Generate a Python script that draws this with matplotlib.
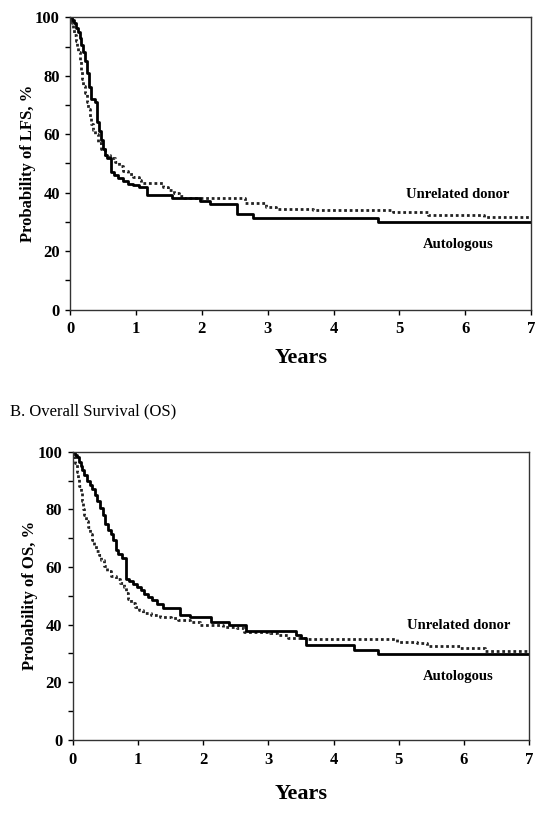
import matplotlib
matplotlib.use("Agg")
import matplotlib.pyplot as plt
from matplotlib.ticker import MultipleLocator

plt.rcParams['font.family'] = ['Liberation Serif', 'DejaVu Serif']

# ---------- Data: Leukemia-free survival (LFS) ----------
lfs_auto_t = [0, 0.02, 0.05, 0.08, 0.11, 0.14, 0.17, 0.20, 0.23, 0.26, 0.29, 0.31, 0.38, 0.40,
              0.43, 0.46, 0.49, 0.52, 0.56, 0.62, 0.66, 0.72, 0.80, 0.88, 0.96, 1.04, 1.16,
              1.54, 1.97, 2.12, 2.53, 2.78, 4.68, 7.0]
lfs_auto_p = [100, 99, 98, 96.5, 95, 93, 90.5, 88, 85, 81, 76, 72, 71, 64,
              61, 58, 55, 53, 52, 47, 46, 45, 44, 43, 42.5, 42, 39.2,
              38.1, 37.2, 36, 32.6, 31.4, 29.8, 29.8]

lfs_unrel_t = [0, 0.02, 0.04, 0.06, 0.08, 0.10, 0.12, 0.14, 0.16, 0.18, 0.20, 0.22, 0.25, 0.27,
               0.30, 0.32, 0.35, 0.38, 0.42, 0.46, 0.52, 0.60, 0.68, 0.74, 0.80, 0.88, 0.96,
               1.04, 1.08, 1.41, 1.49, 1.57, 1.65, 1.72, 2.65, 2.98, 3.12, 3.69, 4.91, 5.44,
               6.28, 7.0]
lfs_unrel_p = [100, 98, 96, 94, 92, 90, 88, 85, 82, 79, 76.5, 74, 71, 68.5,
               66, 63.5, 61.5, 60, 57, 55, 53, 52, 50.5, 49, 47.5, 46.5, 45.5,
               44.3, 43.2, 42, 41, 40, 39, 38.1, 36.3, 35.2, 34.5, 33.9, 33.3, 32.5,
               31.5, 31.5]

# ---------- Data: Overall survival (OS) ----------
os_auto_t = [0, 0.03, 0.06, 0.09, 0.12, 0.15, 0.18, 0.22, 0.26, 0.30, 0.34, 0.38, 0.42, 0.46,
             0.50, 0.54, 0.58, 0.62, 0.66, 0.70, 0.76, 0.82, 0.86, 0.92, 0.98, 1.04, 1.10,
             1.16, 1.22, 1.30, 1.38, 1.65, 1.80, 2.12, 2.40, 2.66, 3.43, 3.50, 3.58, 4.32,
             4.68, 7.0]
os_auto_p = [100, 99, 98, 96.5, 95, 93.5, 92, 90, 88.5, 87, 85, 83, 80.5, 78,
             75, 73, 71.5, 69.5, 66, 64.5, 63, 56, 55, 54, 53, 52, 50.5,
             49.5, 48.5, 47, 45.7, 43.5, 42.5, 41, 39.8, 37.8, 36.3, 35.3, 32.8, 31.2,
             29.8, 29.8]

os_unrel_t = [0, 0.02, 0.04, 0.06, 0.08, 0.10, 0.12, 0.14, 0.16, 0.18, 0.21, 0.24, 0.27, 0.30,
              0.33, 0.36, 0.40, 0.44, 0.48, 0.52, 0.58, 0.66, 0.72, 0.78, 0.81, 0.85, 0.90,
              0.96, 1.02, 1.08, 1.20, 1.34, 1.50, 1.62, 1.80, 1.95, 2.31, 2.52, 2.62, 3.03,
              3.13, 3.30, 3.59, 4.97, 5.28, 5.43, 5.94, 6.32, 7.0]
os_unrel_p = [100, 98, 96, 93, 91, 88, 85.5, 83, 80, 78, 76, 74, 71.5, 69.5,
              67.5, 65.5, 64, 62.5, 60.5, 58.5, 57, 56, 54.5, 53, 51, 49, 47.5,
              46, 45, 44, 43.2, 42.8, 42.2, 41.6, 41, 40, 39.3, 38.7, 37.6, 37,
              36.4, 35.3, 34.9, 34.1, 33.5, 32.7, 31.8, 30.9, 30.9]

x_ticks = [0, 1, 2, 3, 4, 5, 6, 7]
y_ticks = [0, 20, 40, 60, 80, 100]
label_unrel = "Unrelated donor"
label_auto = "Autologous"

fig = plt.figure(figsize=(5.54, 8.19), dpi=100)


def style_axes(ax, ylabel, xlabelpad):
    ax.set_xlim(0, 7)
    ax.set_ylim(0, 100)
    ax.set_xticks(x_ticks)
    ax.set_yticks(y_ticks)
    ax.yaxis.set_minor_locator(MultipleLocator(10))
    ax.tick_params(axis='both', which='both', direction='out', length=3.5, width=1,
                   labelsize=12)
    ax.tick_params(axis='x', pad=5)
    ax.tick_params(axis='y', pad=4)
    for lab in ax.get_xticklabels() + ax.get_yticklabels():
        lab.set_fontweight('bold')
    for s in ax.spines.values():
        s.set_linewidth(1.0)
        s.set_color('#333333')
    ax.set_ylabel(ylabel, fontsize=12, fontweight='bold', labelpad=-0.5)
    ax.set_xlabel("Years", fontsize=16, fontweight='bold', labelpad=xlabelpad)


# Top: LFS
ax1 = fig.add_axes([0.1269, 0.6221, 0.8316, 0.3568])
ax1.step(lfs_unrel_t, lfs_unrel_p, where='post', color='#222222', lw=2.0, linestyle=(0, (1, 1)))
ax1.step(lfs_auto_t, lfs_auto_p, where='post', color='black', lw=2.0)
style_axes(ax1, "Probability of LFS, %", 8)
ax1.text(5.89, 39.2, label_unrel, ha='center', va='center', fontsize=10.5, fontweight='bold')
ax1.text(5.89, 22.1, label_auto, ha='center', va='center', fontsize=10.5, fontweight='bold')

# Bottom: OS
fig.text(10 / 554, 1 - 411.7 / 819, "B. Overall Survival (OS)", ha='left', va='center',
         fontsize=12)
ax2 = fig.add_axes([0.1312, 0.0965, 0.8242, 0.3520])
ax2.step(os_unrel_t, os_unrel_p, where='post', color='#222222', lw=2.0, linestyle=(0, (1, 1)))
ax2.step(os_auto_t, os_auto_p, where='post', color='black', lw=2.0)
style_axes(ax2, "Probability of OS, %", 12)
ax2.text(5.91, 39.6, label_unrel, ha='center', va='center', fontsize=10.5, fontweight='bold')
ax2.text(5.91, 22.0, label_auto, ha='center', va='center', fontsize=10.5, fontweight='bold')

fig.savefig("out.png", dpi=100)
